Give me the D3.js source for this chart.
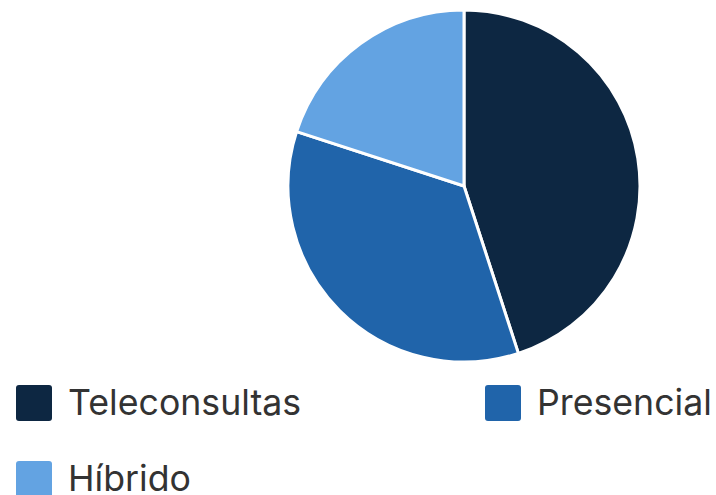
<!DOCTYPE html>
<html><head><meta charset="utf-8">
<script src="https://cdn.jsdelivr.net/npm/d3@7"></script>
<style>html,body{margin:0;padding:0;background:#fff;overflow:hidden}</style>
</head><body>
<svg id="c" width="716" height="495"></svg>
<script>
const categories = ["Teleconsultas", "Presencial", "Híbrido"];
const values = [45, 35, 20];
const colors = ["#0d2742", "#2064aa", "#63a3e2"];

const svg = d3.select("#c");
const cx = 464, cy = 186, r = 176;
const pie = d3.pie().sort(null).value(d => d.v);
const arc = d3.arc().innerRadius(0).outerRadius(r);
const data = categories.map((c, i) => ({c, v: values[i], col: colors[i]}));
const color = d3.scaleOrdinal().domain(categories).range(colors);

svg.append("g").attr("transform", `translate(${cx},${cy})`)
  .selectAll("path").data(pie(data)).join("path")
  .attr("d", arc).attr("fill", d => color(d.data.c))
  .attr("stroke", "#fff").attr("stroke-width", 3).attr("stroke-linejoin", "round");

const legX = d3.scalePoint().domain([0, 1]).range([16, 485]);
const leg = svg.append("g").selectAll("g").data(data).join("g")
  .attr("transform", (d, i) => `translate(${legX(i % 2)},${385 + Math.floor(i / 2) * 76})`);
leg.append("rect").attr("width", 36).attr("height", 36).attr("rx", 3)
  .attr("fill", d => color(d.c));
leg.append("text").attr("x", 52).attr("y", 30)
  .attr("font-family", "Inter, sans-serif").attr("font-size", 35.7)
  .attr("fill", "#333").text(d => d.c);
</script>
</body></html>
